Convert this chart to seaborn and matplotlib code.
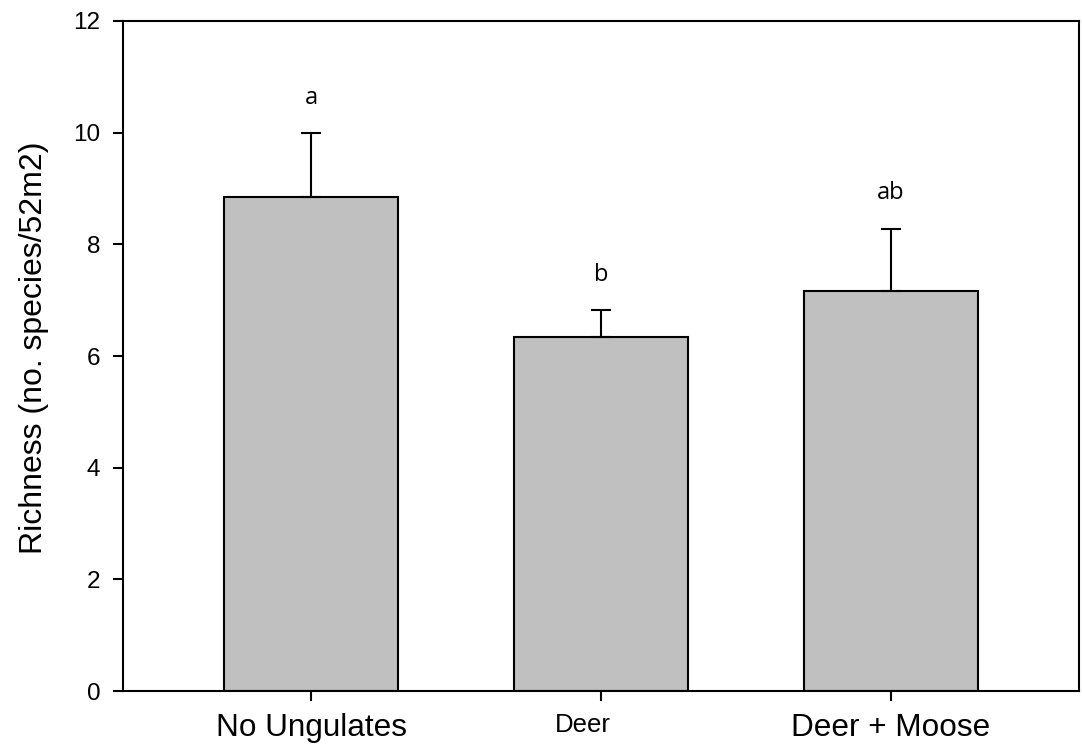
import pandas as pd
import matplotlib
matplotlib.use("Agg")
import matplotlib.pyplot as plt
import matplotlib.transforms as mtransforms
import seaborn as sns

groups = ["No Ungulates", "Deer", "Deer + Moose"]
richness = [8.84, 6.34, 7.17]
se = [1.15, 0.48, 1.11]
letters = ["a", "b", "ab"]

df = pd.DataFrame({"Group": groups, "Richness": richness})

sns.set_style("ticks")
plt.rcParams["font.family"] = ["Liberation Sans", "DejaVu Sans"]
for k in ["text.color", "axes.labelcolor", "xtick.color", "ytick.color"]:
    plt.rcParams[k] = "black"

fig = plt.figure(figsize=(10.82, 7.44), dpi=100)
ax = fig.add_axes([0.1134, 0.0712, 0.8838, 0.9006])

sns.barplot(data=df, x="Group", y="Richness", color="#C0C0C0",
            edgecolor="black", linewidth=1.5, width=0.6, errorbar=None,
            saturation=1, ax=ax)

# upper error bars only
ax.errorbar(range(len(groups)), richness, yerr=[[0] * len(se), se],
            fmt="none", ecolor="black", elinewidth=1.5, capsize=7,
            capthick=1.5)

for i, (v, e, t) in enumerate(zip(richness, se, letters)):
    ax.text(i, v + e + 0.53, t, ha="center", va="baseline", fontsize=17,
            family=["Open Sans", "DejaVu Sans"])

ax.set_xlim(-0.65, 2.65)
ax.set_ylim(0, 12)
ax.set_yticks(range(0, 13, 2))
ax.set_xlabel("")
ax.set_ylabel("Richness (no. species/52m2)", fontsize=23)
ax.yaxis.set_label_coords(-0.077, 0.513)
ax.tick_params(axis="y", labelsize=17.5, length=7, width=1.5,
               direction="out", pad=9)
ax.tick_params(axis="x", length=7, width=1.5, direction="out", pad=9)
for lab, fs in zip(ax.get_xticklabels(), [22.7, 18.5, 22.7]):
    lab.set_fontsize(fs)
# the "Deer" label sits a bit left of its tick in the original
deer = ax.get_xticklabels()[1]
deer.set_transform(deer.get_transform() +
                   mtransforms.ScaledTranslation(-0.18, 0, fig.dpi_scale_trans))
for s in ax.spines.values():
    s.set_visible(True)
    s.set_linewidth(1.5)
    s.set_color("black")

fig.savefig("out.png", dpi=100)
